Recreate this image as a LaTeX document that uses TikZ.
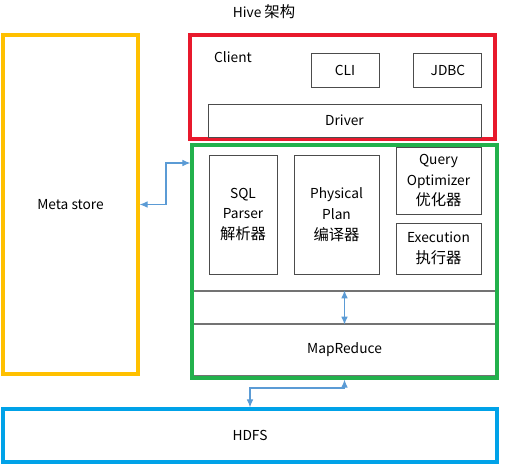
\documentclass[tikz,border=0pt]{standalone}
\usepackage{fontspec}
\setmainfont{Noto Sans CJK SC}
\usepackage{tikz}
\usetikzlibrary{shapes,arrows,arrows.meta,positioning}
\definecolor{metayellow}{HTML}{FFC000}
\definecolor{clientred}{HTML}{E8192C}
\definecolor{coregreen}{HTML}{22B14C}
\definecolor{hdfsblue}{HTML}{00A2E8}
\definecolor{linkblue}{HTML}{5B9BD5}
\newcommand{\zh}[1]{{\fontsize{11.5}{15.5}\selectfont #1}}
\tikzstyle{frame} = [rectangle, draw, line width=2.4pt, inner sep=0pt]
\tikzstyle{block} = [rectangle, draw=black!70, line width=0.7pt, text centered, inner sep=0pt, align=center]
\tikzstyle{strip} = [rectangle, draw=black!55, line width=0.9pt, inner sep=0pt]
\tikzstyle{line} = [draw, {Latex[length=6pt,width=5pt]}-{Latex[length=6pt,width=5pt]}, line width=0.8pt, color=linkblue]

\begin{document}
\begin{tikzpicture}[x=0.75pt, y=-0.75pt, font=\fontsize{10.3}{15.5}\selectfont]
			\useasboundingbox (0,0) rectangle (505,469);
			\node (title) at (264,12) {Hive \zh{架构}};
			\node [frame, draw=metayellow, minimum width=101.25pt, minimum height=254.25pt] (meta) at (70.5,204.5) {Meta store};
			\node [frame, draw=clientred, minimum width=228.75pt, minimum height=78pt] (client) at (342.5,87) {};
			\node (clientlabel) at (233,57) {Client};
			\node [block, minimum width=51pt, minimum height=25.5pt] (cli) at (345,70) {CLI};
			\node [block, minimum width=51pt, minimum height=25.5pt, right=25.5pt of cli] (jdbc) {JDBC};
			\node [block, minimum width=204.75pt, minimum height=24.75pt] (driver) at (344.5,120.5) {Driver};
			\node [strip, minimum width=228.75pt, minimum height=24.75pt] (gap) at (344.5,307.5) {};
			\node [strip, minimum width=228.75pt, minimum height=39pt] (mapreduce) at (344.5,350) {MapReduce};
			\node [block, minimum width=51pt, minimum height=89.25pt] (parser) at (243,214.5) {SQL\\Parser\\\zh{解析器}};
			\node [block, minimum width=63.75pt, minimum height=89.25pt] (plan) at (336.5,214.5) {Physical\\Plan\\\zh{编译器}};
			\node [block, minimum width=63.75pt, minimum height=50.25pt] (optimizer) at (438.5,180.5) {Query\\Optimizer\\\zh{优化器}};
			\node [block, minimum width=63.75pt, minimum height=38.25pt] (execution) at (438.5,248.5) {Execution\\\zh{执行器}};
			\node [frame, draw=coregreen, minimum width=228.75pt, minimum height=174.75pt] (core) at (344.5,261.5) {};
			\node [frame, draw=hdfsblue, minimum width=370.5pt, minimum height=39.75pt] (hdfs) at (250,435.5) {HDFS};
			\coordinate (metabend) at (166,163);
			\coordinate (hdfsbend) at (250,388);
			\path [line] (meta.east) -| (metabend) -- (metabend -| core.west);
			\path [line] (gap.north) -- (gap.south);
			\path [line] (core.south) |- (hdfsbend) -- (hdfs.north);
		\end{tikzpicture}
\end{document}
